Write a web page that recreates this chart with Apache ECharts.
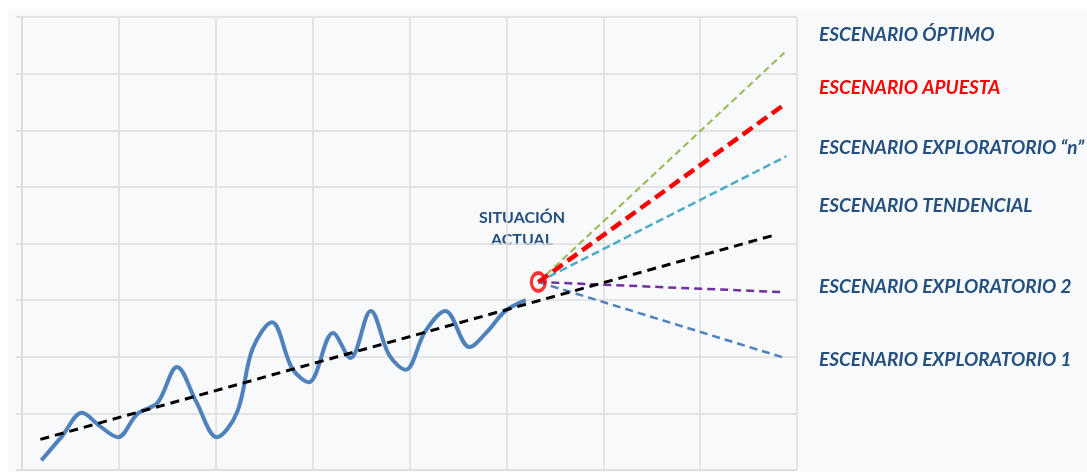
<!DOCTYPE html>
<html><head><meta charset="utf-8">
<script src="https://cdn.jsdelivr.net/npm/echarts@6/dist/echarts.min.js"></script>
<style>
html,body{margin:0;padding:0;background:#fff;}
#bg{position:absolute;left:8px;top:9px;width:1079px;height:463px;background:#f7f9fb;}
#chart{position:absolute;left:0;top:0;width:1087px;height:472px;}
</style></head>
<body><div id="bg"></div><div id="chart"></div>
<script>
// Historical (wavy) series: [x, y]
const historico = [[0.20,0.17],[0.41,0.59],[0.62,1.01],[0.80,0.78],[0.99,0.58],[1.19,0.99],[1.40,1.19],[1.60,1.82],[1.80,1.20],[2.01,0.58],[2.22,1.02],[2.38,2.14],[2.58,2.61],[2.79,1.79],[2.96,1.55],[3.21,2.42],[3.39,1.98],[3.60,2.81],[3.79,2.03],[3.96,1.77],[4.16,2.44],[4.37,2.81],[4.62,2.17],[4.80,2.44],[4.99,2.81],[5.20,3.00]];
const tendencia = [[0.19,0.54],[7.77,4.15]];
const actual = [5.33,3.32];
const optimo = [actual,[7.87,7.37]];
const apuesta = [actual,[7.89,6.48]];
const exploratorioN = [actual,[7.89,5.54]];
const exploratorio2 = [actual,[7.87,3.14]];
const exploratorio1 = [actual,[7.89,1.97]];
const etiquetas = ['ESCENARIO ÓPTIMO','ESCENARIO APUESTA','ESCENARIO EXPLORATORIO \u201Cn\u201D','ESCENARIO TENDENCIAL','ESCENARIO EXPLORATORIO 2','ESCENARIO EXPLORATORIO 1'];
const etiquetaActual = 'SITUACIÓN\nACTUAL';

const chart = echarts.init(document.getElementById('chart'));
const gridColor = '#dcdcdc';
function dashed(name, data, color, width, dash, z){
  return {name, type:'line', data, showSymbol:false, symbol:'none', z:z||3,
    lineStyle:{color, width, type:dash, cap:'butt'}, animation:false};
}
const labelY = [35, 88, 148, 206, 287, 360];
const labelColors = ['#24507f','#ff0000','#24507f','#24507f','#24507f','#24507f'];
chart.setOption({
  backgroundColor:'transparent',
  animation:false,
  grid:{left:22, top:17, width:775, height:453},
  xAxis:{type:'value', min:0, max:8, interval:1,
    axisLine:{show:true, lineStyle:{color:gridColor, width:1.5}},
    axisTick:{show:false}, axisLabel:{show:false},
    splitLine:{show:true, lineStyle:{color:gridColor, width:1.5}}},
  yAxis:{type:'value', min:0, max:8, interval:1,
    axisLine:{show:true, lineStyle:{color:gridColor, width:1.5}},
    axisTick:{show:true, length:6, lineStyle:{color:gridColor, width:1.5}},
    axisLabel:{show:false},
    splitLine:{show:true, lineStyle:{color:gridColor, width:1.5}}},
  series:[
    {name:'Histórico', type:'line', data:historico, smooth:0.35, showSymbol:false, symbol:'none', z:4,
      lineStyle:{color:'#4f81bd', width:4}},
    dashed('Tendencia', tendencia, '#000000', 3, [9,6], 5),
    dashed('Óptimo', optimo, '#9bbb59', 2.2, [7,4]),
    dashed('Apuesta', apuesta, '#ff0000', 4.5, [12,6], 4),
    dashed('Exploratorio n', exploratorioN, '#4bacc6', 2.5, [8,4]),
    dashed('Exploratorio 2', exploratorio2, '#7030a0', 2.5, [8,5]),
    dashed('Exploratorio 1', exploratorio1, '#4f81bd', 2.5, [8,5]),
    {name:'Actual', type:'scatter', data:[actual], symbol:'circle', symbolSize:[14,18], z:6,
      itemStyle:{color:'rgba(255,255,255,0)', borderColor:'#ff0000', borderWidth:3.5}}
  ],
  graphic: etiquetas.map((t,i)=>({type:'text', x:819, y:labelY[i],
      style:{text:t, font:'italic bold 19px Lato', fill:labelColors[i], verticalAlign:'middle'}}))
    .concat([{type:'text', x:522, y:229,
      style:{text:etiquetaActual, font:'bold 16px Lato', fill:'#24507f', align:'center', verticalAlign:'middle', lineHeight:22}}])
});
</script></body></html>
